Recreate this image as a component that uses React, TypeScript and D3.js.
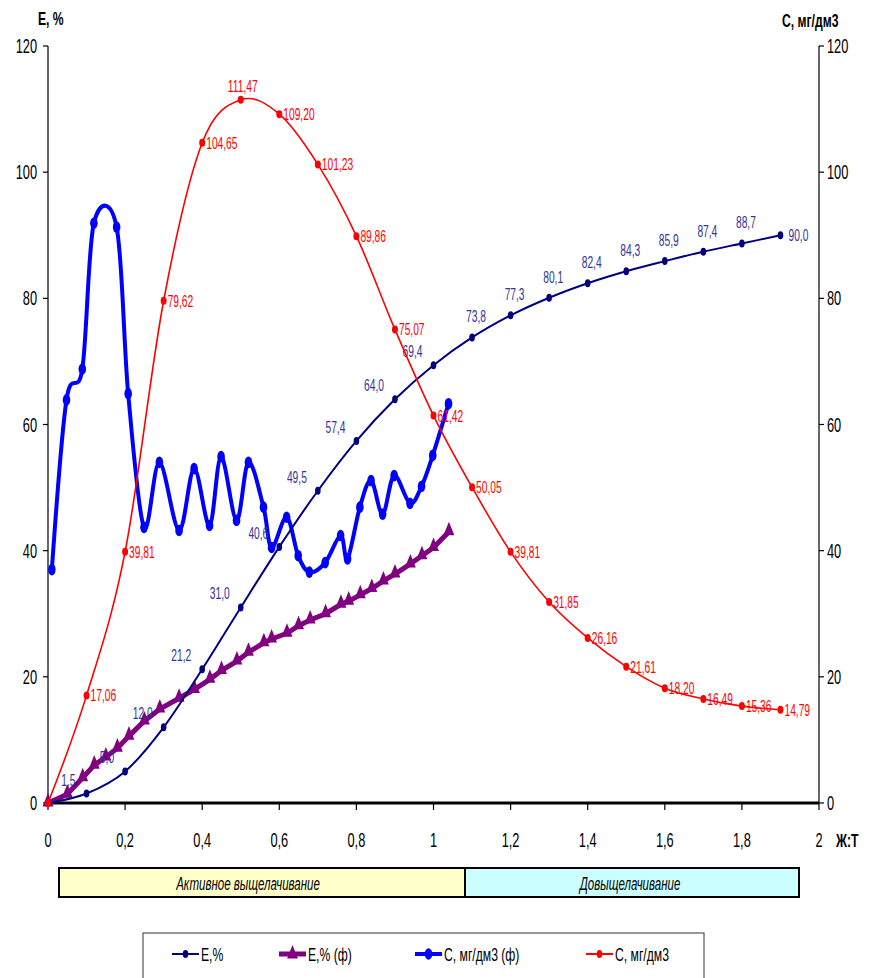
import { useMemo } from 'react'
import * as d3 from 'd3'

// E,% (calculated) and C, мг/дм3 (calculated) share the same Ж:Т grid
const ratioCalc = [0, 0.1, 0.2, 0.3, 0.4, 0.5, 0.6, 0.7, 0.8, 0.9, 1.0, 1.1, 1.2, 1.3, 1.4, 1.5, 1.6, 1.7, 1.8, 1.9]
const eCalc = [0, 1.5, 5.0, 12.0, 21.2, 31.0, 40.6, 49.5, 57.4, 64.0, 69.4, 73.8, 77.3, 80.1, 82.4, 84.3, 85.9, 87.4, 88.7, 90.0]
const cCalc = [0, 17.06, 39.81, 79.62, 104.65, 111.47, 109.2, 101.23, 89.86, 75.07, 61.42, 50.05, 39.81, 31.85, 26.16, 21.61, 18.2, 16.49, 15.36, 14.79]

// E,% (ф) - actual extraction
const ratioEFact = [0, 0.05, 0.09, 0.12, 0.15, 0.18, 0.21, 0.25, 0.29, 0.34, 0.38, 0.42, 0.45, 0.49, 0.52, 0.56, 0.58, 0.62, 0.65, 0.68, 0.72, 0.76, 0.78, 0.81, 0.84, 0.87, 0.9, 0.94, 0.97, 1.0, 1.04]
const eFact = [0, 1.4, 4.0, 6.0, 7.3, 8.7, 10.6, 13.0, 14.9, 16.6, 18.0, 19.6, 21.0, 22.5, 23.9, 25.4, 26.0, 26.9, 28.1, 29.0, 30.0, 31.5, 32.0, 33.0, 34.0, 35.2, 36.3, 37.9, 39.2, 40.5, 43.0]

// C, мг/дм3 (ф) - actual concentration
const ratioCFact = [0.01, 0.048, 0.089, 0.119, 0.178, 0.208, 0.249, 0.289, 0.34, 0.379, 0.419, 0.449, 0.489, 0.52, 0.559, 0.58, 0.619, 0.649, 0.678, 0.719, 0.759, 0.777, 0.809, 0.838, 0.868, 0.898, 0.939, 0.969, 0.998, 1.039]
const cFact = [37.0, 63.9, 68.8, 91.9, 91.3, 64.9, 43.7, 54.0, 43.2, 53.0, 44.0, 54.9, 44.8, 54.0, 46.9, 40.5, 45.3, 39.2, 36.6, 38.1, 42.4, 38.7, 46.9, 51.1, 45.8, 51.9, 47.5, 50.2, 55.1, 63.3]

const xTicks = [0, 0.2, 0.4, 0.6, 0.8, 1, 1.2, 1.4, 1.6, 1.8, 2]
const yTicks = [0, 20, 40, 60, 80, 100, 120]
const stages = ['Активное выщелачивание', 'Довыщелачивание']
const legendItems = ['E,%', 'E,% (ф)', 'C, мг/дм3 (ф)', 'C, мг/дм3']

const FONT = '"Liberation Sans", Arial, sans-serif'
const SQ = 0.64 // the original chart is squeezed horizontally

function T({ x, y, anchor = 'start', size = 16, fill = '#000', bold = false, italic = false, children }: any) {
  return (
    <text
      transform={`translate(${x},${y}) scale(${SQ},1)`}
      textAnchor={anchor}
      fontSize={size}
      fontFamily={FONT}
      fontWeight={bold ? 'bold' : 'normal'}
      fontStyle={italic ? 'italic' : 'normal'}
      fill={fill}
    >
      {children}
    </text>
  )
}

const fmt = (v: number, d: number) => v.toFixed(d).replace('.', ',')

export default function App() {
  const x = d3.scaleLinear().domain([0, 2]).range([48, 819])
  const y = d3.scaleLinear().domain([0, 120]).range([803, 46])

  const smooth = d3.line<[number, number]>().x(d => x(d[0])).y(d => y(d[1])).curve(d3.curveCatmullRom.alpha(0))
  const straight = d3.line<[number, number]>().x(d => x(d[0])).y(d => y(d[1]))

  const eCalcPts = useMemo(() => ratioCalc.map((r, i) => [r, eCalc[i]] as [number, number]), [])
  const cCalcPts = useMemo(() => ratioCalc.map((r, i) => [r, cCalc[i]] as [number, number]), [])
  const eFactPts = useMemo(() => ratioEFact.map((r, i) => [r, eFact[i]] as [number, number]), [])
  const cFactPts = useMemo(() => ratioCFact.map((r, i) => [r, cFact[i]] as [number, number]), [])

  const tri = d3.symbol().type(d3.symbolTriangle).size(80)()

  const maxC = d3.max(cCalc) as number
  const legendX = [172, 279, 415, 586]
  const legendColors = ['#000080', '#800080', '#0000FF', '#FF0000']
  const legendWidths = [2, 5, 4, 2]

  return (
    <svg width={875} height={978} style={{ position: 'absolute', left: 0, top: 0, background: '#fff' }}>
      {/* axes */}
      <line x1={x(0)} x2={x(0)} y1={y(0)} y2={y(120)} stroke="#000" strokeWidth={1.2} />
      <line x1={x(2)} x2={x(2)} y1={y(0)} y2={y(120)} stroke="#000" strokeWidth={1.2} />
      {yTicks.map(t => (
        <g key={'y' + t}>
          <line x1={x(0) - 5} x2={x(0)} y1={y(t)} y2={y(t)} stroke="#000" strokeWidth={1.2} />
          <line x1={x(2)} x2={x(2) + 5} y1={y(t)} y2={y(t)} stroke="#000" strokeWidth={1.2} />
          <T x={37} y={y(t) + 7} anchor="end" size={20}>{t}</T>
          <T x={827} y={y(t) + 7} size={20}>{t}</T>
        </g>
      ))}
      <line x1={x(0)} x2={x(2)} y1={y(0)} y2={y(0)} stroke="#000" strokeWidth={3} />
      {xTicks.map(t => (
        <g key={'x' + t}>
          <line x1={x(t)} x2={x(t)} y1={y(0)} y2={y(0) + 7} stroke="#000" strokeWidth={1.2} />
          <T x={x(t)} y={847} anchor="middle" size={20}>{String(t).replace('.', ',')}</T>
        </g>
      ))}
      <T x={38} y={25} size={19} bold>E, %</T>
      <T x={782} y={27} size={19} bold>C, мг/дм3</T>
      <T x={836} y={847} size={19} bold>Ж:Т</T>

      {/* C, мг/дм3 (ф) */}
      <path d={smooth(cFactPts) || ''} fill="none" stroke="#0000FF" strokeWidth={4} />
      {cFactPts.map((p, i) => (
        <ellipse key={'cf' + i} cx={x(p[0])} cy={y(p[1])} rx={3.8} ry={5.8} fill="#0000FF" />
      ))}

      {/* E,% (ф) */}
      <path d={straight(eFactPts) || ''} fill="none" stroke="#800080" strokeWidth={5} />
      {eFactPts.map((p, i) => (
        <path key={'ef' + i} d={tri || ''} transform={`translate(${x(p[0])},${y(p[1]) - 1}) scale(0.8,1.15)`} fill="#800080" />
      ))}

      {/* E,% */}
      <path d={smooth(eCalcPts) || ''} fill="none" stroke="#000080" strokeWidth={2} />
      {eCalcPts.map((p, i) => (
        <ellipse key={'ec' + i} cx={x(p[0])} cy={y(p[1])} rx={2.8} ry={4} fill="#000080" />
      ))}
      {eCalcPts.map((p, i) => {
        if (i === 0) return null
        const px = x(p[0]), py = y(p[1])
        const last = i === eCalcPts.length - 1
        if (last) return <T key={'el' + i} x={px + 8} y={py + 6} fill="#333399">{fmt(p[1], 1)}</T>
        if (p[0] > 1) return <T key={'el' + i} x={px + 4} y={py - 15} anchor="middle" fill="#333399">{fmt(p[1], 1)}</T>
        return <T key={'el' + i} x={px - 11} y={py - 8} anchor="end" fill="#333399">{fmt(p[1], 1)}</T>
      })}

      {/* C, мг/дм3 */}
      <path d={smooth(cCalcPts) || ''} fill="none" stroke="#FF0000" strokeWidth={1.6} />
      {cCalcPts.map((p, i) => (
        <ellipse key={'cc' + i} cx={x(p[0])} cy={y(p[1])} rx={3} ry={4} fill="#FF0000" />
      ))}
      {cCalcPts.map((p, i) => {
        if (i === 0) return null
        const px = x(p[0]), py = y(p[1])
        if (p[1] === maxC) return <T key={'cl' + i} x={px + 2} y={py - 8} anchor="middle" fill="#FF0000">{fmt(p[1], 2)}</T>
        return <T key={'cl' + i} x={px + 4} y={py + 6} fill="#FF0000">{fmt(p[1], 2)}</T>
      })}

      {/* stages */}
      <rect x={59} y={868} width={406} height={29} fill="#FFFFCC" stroke="#000" strokeWidth={2} />
      <rect x={465} y={868} width={334} height={29} fill="#CCFFFF" stroke="#000" strokeWidth={2} />
      <T x={248} y={890} anchor="middle" size={18} italic>{stages[0]}</T>
      <T x={630} y={890} anchor="middle" size={18} italic>{stages[1]}</T>

      {/* legend */}
      <rect x={143} y={933} width={561} height={60} fill="#fff" stroke="#333" strokeWidth={1} />
      {legendItems.map((name, i) => {
        const lx = legendX[i]
        const cy = 954
        return (
          <g key={'lg' + i}>
            <line x1={lx} x2={lx + 27} y1={cy} y2={cy} stroke={legendColors[i]} strokeWidth={legendWidths[i]} />
            {i === 1 ? (
              <path d={tri || ''} transform={`translate(${lx + 13.5},${cy}) scale(0.8,1.15)`} fill={legendColors[i]} />
            ) : (
              <ellipse cx={lx + 13.5} cy={cy} rx={i === 2 ? 3.8 : 2.8} ry={i === 2 ? 5.8 : 4} fill={legendColors[i]} />
            )}
            <T x={lx + 29} y={cy + 7} size={19}>{name}</T>
          </g>
        )
      })}
    </svg>
  )
}
